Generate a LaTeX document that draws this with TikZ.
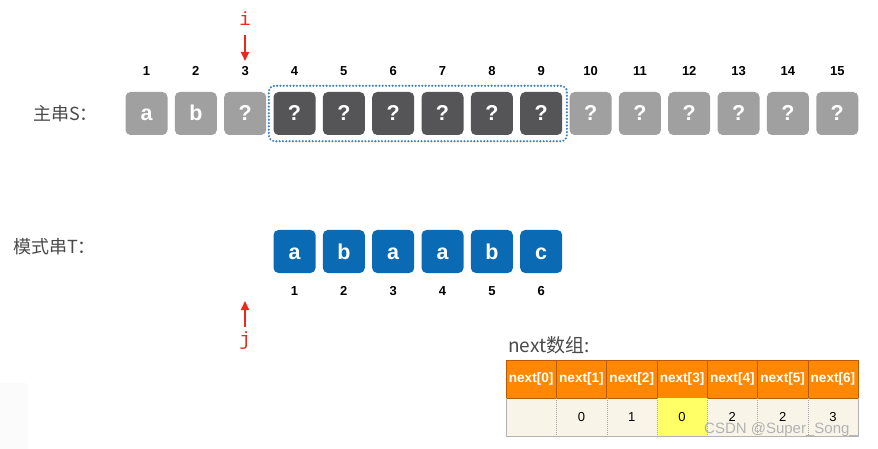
\documentclass[tikz,border=0pt]{standalone}
\usepackage{fontspec}
\setmainfont{Liberation Sans}
\newfontfamily\cjk{Noto Sans CJK SC}
\newfontfamily\monof{Liberation Mono}
\usetikzlibrary{arrows.meta,fit}
\definecolor{lightbox}{HTML}{A0A0A0}
\definecolor{darkbox}{HTML}{555457}
\definecolor{bluebox}{HTML}{0A6AB4}
\definecolor{redarrow}{HTML}{E8291C}
\definecolor{dotblue}{HTML}{3F7FC4}
\definecolor{labelgrey}{HTML}{4A4A4A}
\definecolor{headorange}{HTML}{FF8800}
\definecolor{headline}{HTML}{B85A00}
\definecolor{bodycream}{HTML}{F8F5E8}
\definecolor{hiyellow}{HTML}{FFFF66}
\begin{document}
\begin{tikzpicture}[x=1pt,y=-1pt,
  sq/.style={rounded corners=5pt, minimum width=42pt, minimum height=43pt, inner sep=0pt,
    text height=15pt, text depth=0pt,
    text=white, font=\fontsize{21.5}{21.5}\selectfont\bfseries},
  idx/.style={inner sep=0pt, font=\fontsize{13}{13}\selectfont\bfseries},
  rowlabel/.style={anchor=west, inner sep=0pt, text=labelgrey, font=\cjk\fontsize{18}{18}\selectfont},
  ptr/.style={inner sep=0pt, text=redarrow, font=\monof\fontsize{19}{19}\selectfont},
  ptrarrow/.style={draw=redarrow, line width=1.8pt, -{Triangle[length=9pt,width=8pt]}},
  hcell/.style={draw=headline, line width=0.6pt, fill=headorange, minimum width=50.3pt, minimum height=38pt,
    inner sep=0pt, text=white, font=\fontsize{13.6}{13.6}\selectfont\bfseries},
  bcell/.style={fill=bodycream, minimum width=50.3pt, minimum height=38pt, inner sep=0pt,
    font=\fontsize{13}{13}\selectfont},
]
\useasboundingbox (0,0) rectangle (878,449);
% faint patch bottom-left
\fill[black!1.5, rounded corners=3pt] (-5,383) rectangle (28,452);

% row labels
\node[rowlabel] (lblS) at (33,113.5) {主串S：};
\node[rowlabel] (lblT) at (13,247) {模式串T：};

% main string S
\foreach \k/\t/\c in {1/a/lightbox,2/b/lightbox,3/?/lightbox,4/?/darkbox,5/?/darkbox,6/?/darkbox,
  7/?/darkbox,8/?/darkbox,9/?/darkbox,10/?/lightbox,11/?/lightbox,12/?/lightbox,13/?/lightbox,
  14/?/lightbox,15/?/lightbox}{
  \node[sq, fill=\c] (s\k) at ({146.5+(\k-1)*49.34},113.5) {\t};
  \node[idx] (n\k) at ({146.5+(\k-1)*49.34},71) {\k};
}
\node[fit=(s4)(s9), inner xsep=4.5pt, inner ysep=6pt, draw=dotblue, rounded corners=6pt,
  line width=2.4pt, dash pattern=on 0pt off 3.3pt, line cap=round] (win) {};

% pattern T
\foreach \k/\t in {1/a,2/b,3/a,4/a,5/b,6/c}{
  \node[sq, fill=bluebox] (p\k) at ({294.5+(\k-1)*49.34},251.5) {\t};
  \node[idx] (q\k) at ({294.5+(\k-1)*49.34},291) {\k};
}

% pointers
\node[ptr] (ilab) at (245,19) {i};
\coordinate (itail) at (245,35);
\coordinate (itip) at (245,61);
\draw[ptrarrow] (itail) -- (itip);
\node[ptr] (jlab) at (245,341) {j};
\coordinate (jtail) at (245,327);
\coordinate (jtip) at (245,301);
\draw[ptrarrow] (jtail) -- (jtip);

% next array
\node[anchor=west, inner sep=0pt, text=labelgrey, font=\cjk\fontsize{19}{19}\selectfont] (nextlbl) at (508,345) {next数组:};
\foreach \k/\v in {0/,1/0,2/1,3/0,4/2,5/2,6/3}{
  \node[bcell] (b\k) at ({531.15+\k*50.3},417) {\v};
  \node[hcell] (h\k) at ({531.15+\k*50.3},379) {next[\k]};
}
\node[bcell, fill=hiyellow] (b3) at ({531.15+3*50.3},417) {0};
\foreach \k in {0,...,5}{
  \draw[gray!70, line width=0.5pt, dash pattern=on 1pt off 1pt] (b\k.north east) -- (b\k.south east);
}
\draw[gray!60, line width=0.6pt] (b0.north west) -- (b0.south west) -- (b6.south east) -- (b6.north east);

% watermark
\node[inner sep=0pt, text=black!30, font=\fontsize{15}{15}\selectfont] (wm) at (781,429.5) {CSDN @Super\_Song\_};
\end{tikzpicture}
\end{document}
